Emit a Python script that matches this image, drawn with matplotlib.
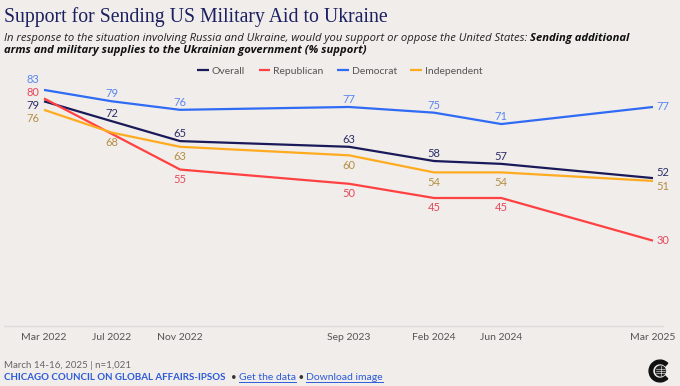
import matplotlib
matplotlib.use("Agg")
import matplotlib.pyplot as plt
from matplotlib.patches import Wedge, Circle
from matplotlib.lines import Line2D
from datetime import date, timedelta
import numpy as np

# ── data ─────────────────────────────────────────────────────────────────────
wave_labels = ["Mar 2022", "Jul 2022", "Nov 2022", "Sep 2023", "Feb 2024", "Jun 2024", "Mar 2025"]
wave_dates = [date(2022, 3, 15), date(2022, 7, 15), date(2022, 11, 15), date(2023, 9, 15),
              date(2024, 2, 15), date(2024, 6, 15), date(2025, 3, 15)]
overall     = [79, 72, 65, 63, 58, 57, 52]
republican  = [80, np.nan, 55, 50, 45, 45, 30]
democrat    = [83, 79, 76, 77, 75, 71, 77]
independent = [76, 68, 63, 60, 54, 54, 51]

# ── styles ───────────────────────────────────────────────────────────────────
BG = "#f0edea"
styles = {
    "Overall":     dict(line="#1a1a5a", text="#2c2c6a", side="above", first=-3.0, last=4.0),
    "Republican":  dict(line="#ff4141", text="#e5485c", side="below", first=4.5, last=0.0),
    "Democrat":    dict(line="#2f6bf5", text="#5a86f2", side="above", first=7.5, last=0.0),
    "Independent": dict(line="#ffab1f", text="#b58f45", side="below", first=-6.5, last=-4.0),
}
series = {"Overall": overall, "Republican": republican,
          "Democrat": democrat, "Independent": independent}

plt.rcParams["font.family"] = ["Lato", "DejaVu Sans"]
SUB_FONT = ["Open Sans", "DejaVu Sans"]

W, H = 680, 386
fig = plt.figure(figsize=(W / 100, H / 100), dpi=100, facecolor=BG)

def fx(px):
    return px / W

def fy(py):
    return 1 - py / H

ax = fig.add_axes([fx(4), fy(326), fx(663) - fx(4), fy(70) - fy(326)])
ax.set_facecolor(BG)

for name, vals in series.items():
    st = styles[name]
    v = np.array(vals, dtype=float)
    ok = ~np.isnan(v)
    xs = [d for d, k in zip(wave_dates, ok) if k]
    ax.plot(xs, v[ok], color=st["line"], lw=1.6, label=name, solid_capstyle="butt")
    n = len(vals)
    for i, (d, val) in enumerate(zip(wave_dates, vals)):
        if np.isnan(val):
            continue
        if i == 0:
            off = (-8, st["first"])
        elif i == n - 1:
            off = (7, st["last"])
        else:
            off = (0, 5.5) if st["side"] == "above" else (0, -7)
        ax.annotate(f"{val:.0f}", xy=(d, val), xytext=off, textcoords="offset points",
                    ha="center", va="center", fontsize=8, color=st["text"])

ax.set_xlim(wave_dates[0] - timedelta(days=72), wave_dates[-1] + timedelta(days=18))
ax.set_ylim(0, 90)
ax.set_xticks(wave_dates)
ax.set_xticklabels(wave_labels)
ax.tick_params(axis="x", length=0, pad=5, labelsize=7.5, labelcolor="#555555")
ax.set_yticks([])
for s in ["top", "left", "right"]:
    ax.spines[s].set_visible(False)
ax.spines["bottom"].set_color("#dcdcdc")
ax.spines["bottom"].set_linewidth(1)

# legend
fig.legend(loc="center", bbox_to_anchor=(0.5, fy(71)), ncol=4, frameon=False,
           fontsize=7.5, handlelength=1.1, handletextpad=0.3, columnspacing=1.3,
           labelcolor="#555555")

# ── title / subtitle ─────────────────────────────────────────────────────────
fig.text(fx(4), fy(17), "Support for Sending US Military Aid to Ukraine",
         family="Liberation Serif", fontsize=14.2, color="#1c2060", va="center")
t1 = fig.text(fx(4), fy(38), "In response to the situation involving Russia and Ukraine, "
              "would you support or oppose the United States: ",
              family=SUB_FONT, style="italic", fontsize=8.1, color="#222222", va="center")
ax.annotate("Sending additional", xy=(1, 0), xycoords=t1, va="bottom", ha="left",
            family=SUB_FONT, style="italic", weight="bold", fontsize=8.1, color="#111111",
            annotation_clip=False)
fig.text(fx(4), fy(50.5), "arms and military supplies to the Ukrainian government (% support)",
         family=SUB_FONT, style="italic", weight="bold", fontsize=8.1, color="#111111",
         va="center")

# ── footer ───────────────────────────────────────────────────────────────────
fig.text(fx(4), fy(365), "March 14-16, 2025 | n=1,021", fontsize=7,
         color="#666666", va="center")
f1 = fig.text(fx(4), fy(378), "CHICAGO COUNCIL ON GLOBAL AFFAIRS-IPSOS", fontsize=7,
              weight="bold", color="#2d5bd8", va="center")
f2 = ax.annotate("  \u2022 ", xy=(1, 0), xycoords=f1, va="bottom", fontsize=7,
                 color="#333333", annotation_clip=False)
f3 = ax.annotate("Get the data", xy=(1, 0), xycoords=f2, va="bottom", fontsize=7.5,
                 color="#2d5bd8", annotation_clip=False)
f4 = ax.annotate(" \u2022 ", xy=(1, 0), xycoords=f3, va="bottom", fontsize=7,
                 color="#333333", annotation_clip=False)
f5 = ax.annotate("Download image", xy=(1, 0), xycoords=f4, va="bottom", fontsize=7.5,
                 color="#2d5bd8", annotation_clip=False)

fig.canvas.draw()
r = fig.canvas.get_renderer()
for t in (f3, f5):
    bb = t.get_window_extent(r)
    y = bb.y0 + 1
    fig.add_artist(Line2D([bb.x0 / W, bb.x1 / W], [y / H, y / H], color="#2d5bd8", lw=0.7))

# logo
lax = fig.add_axes([fx(648), fy(383), fx(24), fy(0) - fy(24)])
lax.set_xlim(-1.1, 1.1)
lax.set_ylim(-1.1, 1.1)
lax.set_aspect("equal")
lax.axis("off")
lax.add_patch(Wedge((0, 0), 1.0, 45, 315, width=0.32, color="#111111"))
lax.add_patch(Circle((0.05, 0), 0.45, color="#222222"))
for yy in (-0.2, 0.0, 0.2):
    lax.plot([-0.4, 0.5], [yy, yy], color="white", lw=0.4)
lax.plot([0.05, 0.05], [-0.45, 0.45], color="white", lw=0.4)

fig.savefig("out.png", dpi=100, facecolor=BG)
